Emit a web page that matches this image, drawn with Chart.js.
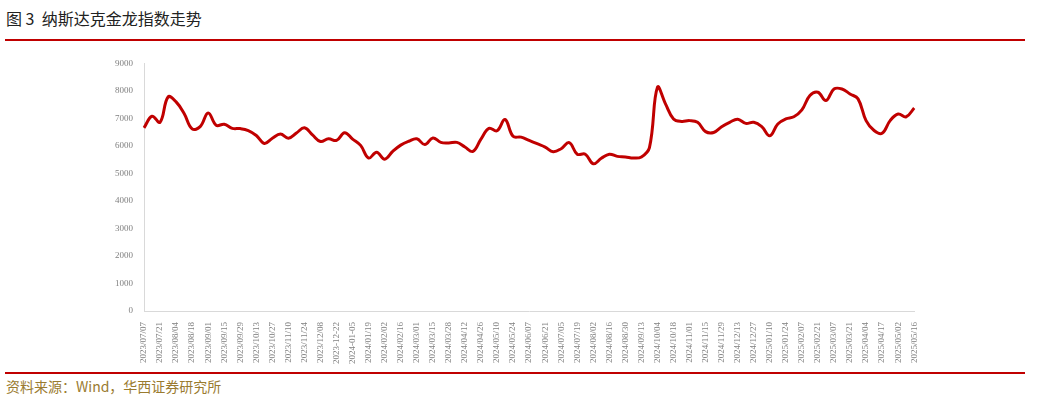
<!DOCTYPE html>
<html>
<head>
<meta charset="utf-8">
<script src="https://cdn.jsdelivr.net/npm/chart.js@4/dist/chart.umd.min.js"></script>
<style>
  body { margin: 0; width: 1053px; height: 400px; background: #fff; position: relative; overflow: hidden; font-family: "Noto Sans CJK SC", serif; }
  .title { position: absolute; left: 6px; top: 6px; font-size: 16px; color: #222; font-family: "Noto Sans CJK SC"; }
  .rule { position: absolute; left: 5px; width: 1020px; height: 2px; background: #c00000; }
  .source { position: absolute; left: 6px; top: 376px; font-size: 14px; color: #9a7b2f; font-family: "Noto Sans CJK SC"; }
  #wrap { position: absolute; left: 100px; top: 55px; width: 828px; height: 312px; }
</style>
</head>
<body>
<div class="title">图 3&nbsp;&nbsp;纳斯达克金龙指数走势</div>
<div class="rule" style="top:39px"></div>
<div id="wrap"><canvas id="c"></canvas></div>
<div class="rule" style="top:372px"></div>
<div class="source">资料来源：Wind，华西证券研究所</div>
<script>
// tick labels, one every two data points
const tickLabels = [
  "2023/07/07","2023/07/21","2023/08/04","2023/08/18","2023/09/01","2023/09/15","2023/09/29",
  "2023/10/13","2023/10/27","2023/11/10","2023/11/24","2023/12/08","2023-12-22","2024-01-05",
  "2024/01/19","2024/02/02","2024/02/16","2024/03/01","2024/03/15","2024/03/28","2024/04/12",
  "2024/04/26","2024/05/10","2024/05/24","2024/06/07","2024/06/21","2024/07/05","2024/07/19",
  "2024/08/02","2024/08/16","2024/08/30","2024/09/13","2024/10/04","2024/10/18","2024/11/01",
  "2024/11/15","2024/11/29","2024/12/13","2024/12/27","2025/01/10","2025/01/24","2025/02/07",
  "2025/02/21","2025/03/07","2025/03/21","2025/04/04","2025/04/17","2025/05/02","2025/05/16"
];

const indexValues = [
  6660, 7080, 6860, 7780, 7600, 7180, 6620, 6700, 7200, 6750,
  6790, 6640, 6630, 6560, 6380, 6090, 6280, 6430, 6280, 6470,
  6660, 6400, 6160, 6260, 6200, 6480, 6250, 6020, 5560, 5770,
  5520, 5800, 6030, 6170, 6260, 6050, 6290, 6130, 6110, 6130,
  5960, 5800, 6250, 6640, 6550, 6960, 6350, 6320, 6200, 6080,
  5960, 5790, 5900, 6120, 5700, 5700, 5350, 5550, 5700, 5620,
  5600, 5560, 5600, 5940, 8130, 7530, 6980, 6890, 6920, 6860,
  6520, 6490, 6700, 6860, 6970, 6820, 6860, 6700, 6370, 6800,
  6980, 7060, 7310, 7830, 7950, 7650, 8070, 8070, 7890, 7710,
  6920, 6560, 6460, 6920, 7160, 7060, 7380
];

const categories = [];
tickLabels.forEach((t, i) => {
  categories.push(t);
  if (i < tickLabels.length - 1) categories.push("");
});

new Chart(document.getElementById("c"), {
  type: "line",
  data: {
    labels: categories,
    datasets: [{
      data: indexValues,
      borderColor: "#c00000",
      borderWidth: 3,
      pointRadius: 0,
      tension: 0.4,
      fill: false
    }]
  },
  options: {
    responsive: true,
    maintainAspectRatio: false,
    animation: false,
    plugins: { legend: { display: false }, tooltip: { enabled: false } },
    layout: { padding: { top: 0, right: 10, bottom: 0, left: 12 } },
    scales: {
      x: {
        offset: false,
        grid: { display: false, drawTicks: true },
        border: { color: "#d9d9d9" },
        ticks: {
          autoSkip: false,
          maxRotation: 90,
          minRotation: 90,
          color: "#808080",
          font: { family: "Liberation Serif", size: 9 },
          callback: (v, i) => categories[i]
        }
      },
      y: {
        min: 0,
        max: 9000,
        grid: { display: false },
        border: { color: "#d9d9d9" },
        ticks: {
          stepSize: 1000,
          color: "#808080",
          font: { family: "Liberation Serif", size: 9 },
          callback: (v) => String(v)
        }
      }
    }
  }
});
</script>
</body>
</html>
